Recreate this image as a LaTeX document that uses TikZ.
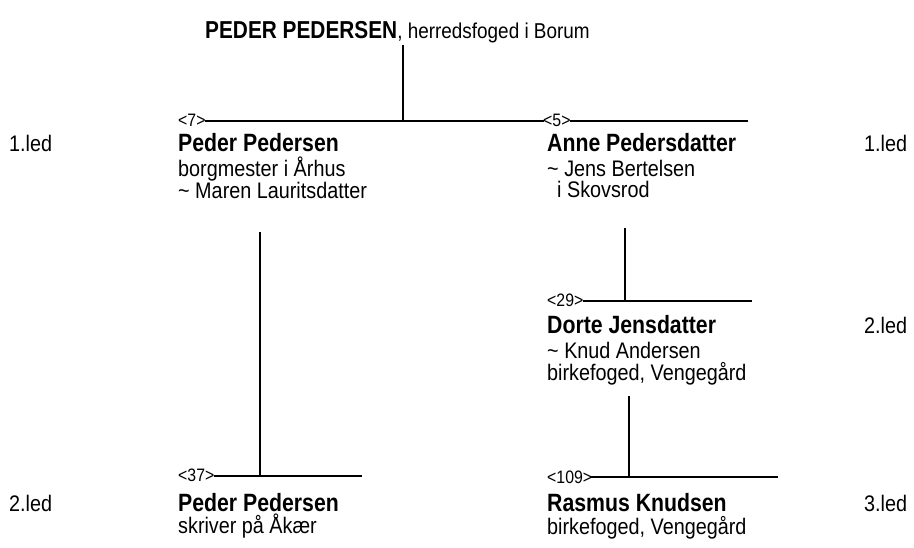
\documentclass[tikz,border=0pt]{standalone}
\usepackage{fontspec}
\setmainfont[FakeStretch=0.88,BoldFeatures={FakeStretch=0.85}]{Liberation Sans}
\begin{document}
\begin{tikzpicture}[x=1pt,y=-1pt,
  txt/.style={inner sep=0pt, anchor=base west},
  namebf/.style={txt, font=\bfseries\fontsize{25}{25}\selectfont},
  info/.style={txt, font=\fontsize{22.5}{22.5}\selectfont},
  led/.style={txt, font=\fontsize{22.5}{22.5}\selectfont},
  num/.style={inner sep=0pt, anchor=base west, font=\fontsize{18}{18}\selectfont},
  bar/.style={line width=2.8pt},
  vline/.style={line width=2.6pt}]
\useasboundingbox (0,0) rectangle (914,547);
% title
\node[txt] (title) at (205,38) {\bfseries\fontsize{24.5}{24.5}\selectfont PEDER PEDERSEN\mdseries\fontsize{21.5}{21.5}\selectfont, herredsfoged i Borum};
% generation labels
\node[led] (l1a) at (9,151) {1.led};
\node[led] (l1b) at (864,151) {1.led};
\node[led] (l2b) at (864,333) {2.led};
\node[led] (l2a) at (9,511) {2.led};
\node[led] (l3b) at (864,511) {3.led};
% numbers
\node[num] (n7) at (178,126) {<7>};
\node[num] (n5) at (543,126) {<5>};
\node[num] (n29) at (547,306) {<29>};
\node[num] (n37) at (178,481) {<37>};
\node[num] (n109) at (547,483) {<109>};
% persons
\node[namebf] (p1) at (178,151) {Peder Pedersen};
\node[info] (p1a) at (178,176) {borgmester i Århus};
\node[info] (p1b) at (178,198) {\textasciitilde{} Maren Lauritsdatter};
\node[namebf] (p2) at (547,151) {Anne Pedersdatter};
\node[info] (p2a) at (547,176) {\textasciitilde{} Jens Bertelsen};
\node[info] (p2b) at (557,197) {i Skovsrod};
\node[namebf] (p3) at (547,333) {Dorte Jensdatter};
\node[info] (p3a) at (547,358) {\textasciitilde{} Knud Andersen};
\node[info] (p3b) at (547,380) {birkefoged, Vengegård};
\node[namebf] (p4) at (178,511) {Peder Pedersen};
\node[info] (p4a) at (178,533) {skriver på Åkær};
\node[namebf] (p5) at (547,511) {Rasmus Knudsen};
\node[info] (p5a) at (547,534) {birkefoged, Vengegård};
% connector coordinates
\coordinate (t0) at (403,45);
\coordinate (t1) at (403,121);
\coordinate (b1end) at (748,121);
\coordinate (v1top) at (260,232);
\coordinate (v1bot) at (260,476);
\coordinate (b4end) at (362,476);
\coordinate (v2top) at (625,228);
\coordinate (v2bot) at (625,301);
\coordinate (b3end) at (752,301);
\coordinate (v3top) at (629,396);
\coordinate (v3bot) at (629,477);
\coordinate (b5end) at (778,477);
% bars
\draw[bar] ([xshift=-1pt]n7.east |- t1) -- ([xshift=1pt]n5.west |- t1);
\draw[bar] ([xshift=-1pt]n5.east |- t1) -- (b1end);
\draw[bar] ([xshift=-1pt]n29.east |- v2bot) -- (b3end);
\draw[bar] ([xshift=-1pt]n37.east |- v1bot) -- (b4end);
\draw[bar] ([xshift=-1pt]n109.east |- v3bot) -- (b5end);
% verticals
\draw[vline] (t0) -- (t1);
\draw[vline] (v1top) -- (v1bot);
\draw[vline] (v2top) -- (v2bot);
\draw[vline] (v3top) -- (v3bot);
\end{tikzpicture}
\end{document}
